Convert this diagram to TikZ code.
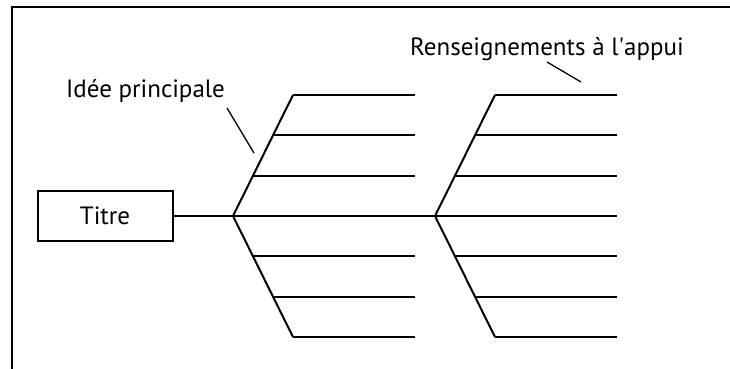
\documentclass[tikz,border=0pt]{standalone}
\usepackage{fontspec}
\setmainfont{PT Sans}
\usetikzlibrary{positioning,calc}

\begin{document}
\begin{tikzpicture}[x=1pt, y=-1pt, line width=2pt,
    lbl/.style={font=\fontsize{25}{29}\selectfont, inner sep=0pt, anchor=base},
    titlebox/.style={rectangle, draw, line width=2pt, minimum width=135pt, minimum height=50pt, font=\fontsize{25}{29}\selectfont},
    pointer/.style={line width=1.3pt}]
\useasboundingbox (0,0) rectangle (730,369);
% cadre
\coordinate (c1) at (12,369);
\coordinate (c2) at (12,7);
\coordinate (c3) at (730,7);
\draw [line width=2.6pt] (c1) -- (c2) -- (c3);

\node at (105,216) [titlebox] (titre) {Titre};
\coordinate (f1) at (233,216);
\coordinate (f2) at (435,216);
\coordinate (f1end) at (415,216);
\coordinate (f2end) at (617,216);
\draw (titre) -- (f2end);

% aretes
\foreach \f in {f1,f2} {
    \coordinate (\f up) at ($(\f)+(60,-121)$);
    \coordinate (\f dn) at ($(\f)+(60,121)$);
    \draw (\f up) -- (\f) -- (\f dn);
    \foreach \k/\dy in {1/40,2/81,3/121} {
        \coordinate (\f u\k) at ($(\f)+(\dy*60/121,-\dy)$);
        \coordinate (\f d\k) at ($(\f)+(\dy*60/121,\dy)$);
        \draw (\f u\k) -- (\f u\k -| \f end);
        \draw (\f d\k) -- (\f d\k -| \f end);
    }
}

\node at (145.5,97) [lbl] (idee) {Idée principale};
\node at (547,56) [lbl] (rens) {Renseignements à l\textquotesingle appui};
\coordinate (p1a) at (227,108);
\coordinate (p1b) at (254,153);
\coordinate (p2a) at (547,62);
\coordinate (p2b) at (581,82);
\draw [pointer] (p1a) -- (p1b);
\draw [pointer] (p2a) -- (p2b);
\end{tikzpicture}
\end{document}
